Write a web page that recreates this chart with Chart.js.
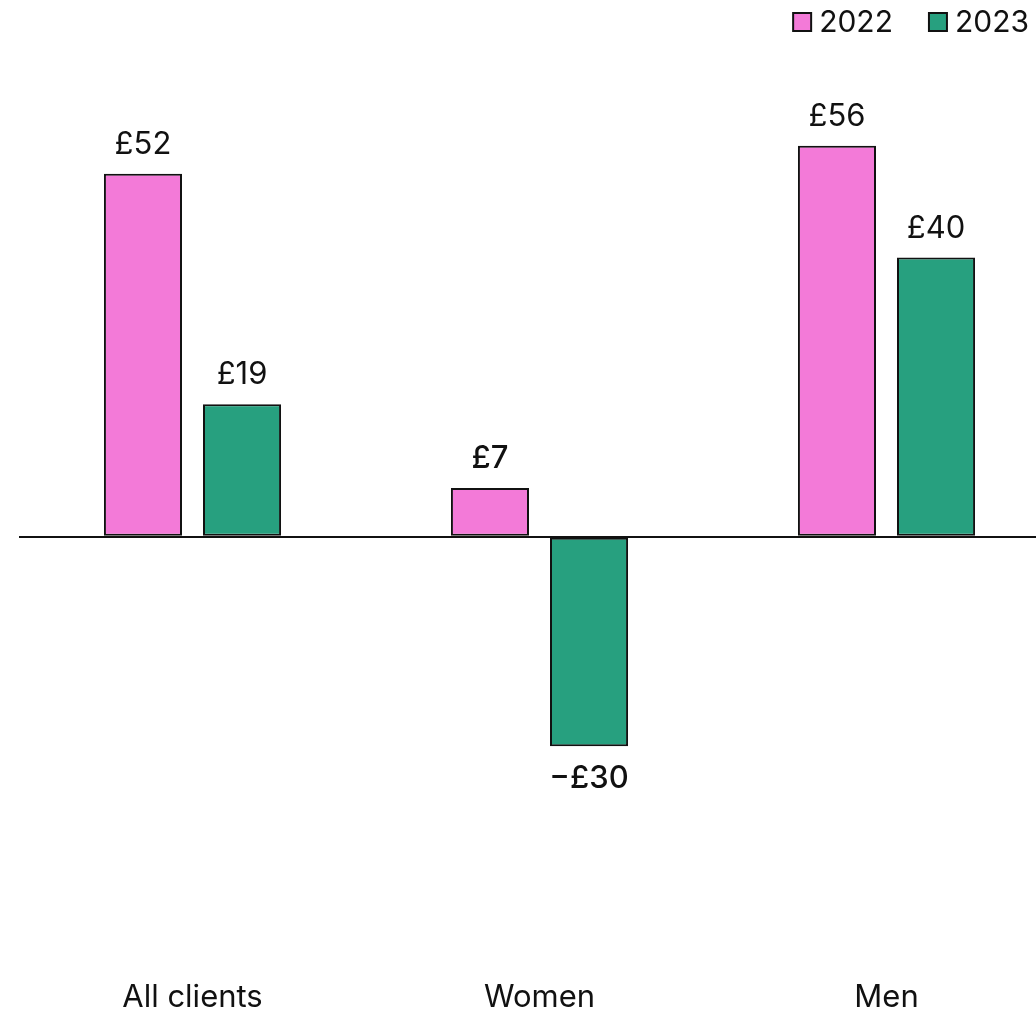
<!DOCTYPE html>
<html lang="en">
<head>
  <meta charset="utf-8" />
  <title>Average change by client group</title>
  <script src="https://cdn.jsdelivr.net/npm/chart.js@4.4.1/dist/chart.umd.min.js"></script>
  <style>
    html, body { margin: 0; padding: 0; background: #fff; }
    /* the plot runs a little past the right edge of the page */
    .frame { width: 1036px; height: 1010px; overflow: hidden; position: relative; }
    canvas { display: block; }
  </style>
</head>
<body>
  <div class="frame">
    <canvas id="chart" width="1060" height="1010"></canvas>
  </div>

  <script>
    const groups = ['All clients', 'Women', 'Men']
    const years = ['2022', '2023']
    const values2022 = [52, 7, 56]
    const values2023 = [19, -30, 40]
    const yRange = [-60, 70]

    const FONT = 'Inter, "Noto Sans", sans-serif'
    const PINK = '#F37AD8'
    const GREEN = '#27A07F'
    const INK = '#111'

    const money = (v) => (v < 0 ? '\u2212£' + Math.abs(v) : '£' + v)

    // value labels above positive bars, below negative ones
    const valueLabels = {
      id: 'valueLabels',
      afterDatasetsDraw(chart) {
        const { ctx } = chart
        ctx.save()
        ctx.fillStyle = INK
        ctx.textAlign = 'center'
        ctx.textBaseline = 'middle'
        chart.data.datasets.forEach((ds, di) => {
          const meta = chart.getDatasetMeta(di)
          meta.data.forEach((bar, i) => {
            const v = ds.data[i]
            ctx.font = (i === 1 ? '500 ' : '400 ') + '31px ' + FONT
            const y = v < 0 ? bar.y + 32 : bar.y - 29
            ctx.fillText(money(v), bar.x, y)
          })
        })
        ctx.restore()
      },
    }

    // small legend in the top right corner
    const cornerLegend = {
      id: 'cornerLegend',
      afterDraw(chart) {
        const { ctx } = chart
        ctx.save()
        ctx.font = '400 30px ' + FONT
        ctx.textBaseline = 'middle'
        ctx.textAlign = 'left'
        const box = 18, gap = 8, spacing = 36
        const widths = chart.data.datasets.map((ds) => box + gap + ctx.measureText(ds.label).width)
        let x = 1029 - widths.reduce((a, b) => a + b, 0) - spacing * (widths.length - 1)
        const cy = 22
        chart.data.datasets.forEach((ds, i) => {
          ctx.fillStyle = ds.backgroundColor
          ctx.fillRect(x, cy - box / 2, box, box)
          ctx.lineWidth = 2
          ctx.strokeStyle = INK
          ctx.strokeRect(x, cy - box / 2, box, box)
          ctx.fillStyle = INK
          ctx.fillText(ds.label, x + box + gap, cy + 1)
          x += widths[i] + spacing
        })
        ctx.restore()
      },
    }

    new Chart(document.getElementById('chart'), {
      type: 'bar',
      data: {
        labels: groups,
        datasets: [
          {
            label: years[0],
            data: values2022,
            backgroundColor: PINK,
            borderColor: INK,
            borderWidth: 2,
            borderSkipped: false,
          },
          {
            label: years[1],
            data: values2023,
            backgroundColor: GREEN,
            borderColor: INK,
            borderWidth: 2,
            borderSkipped: false,
          },
        ],
      },
      options: {
        responsive: false,
        animation: false,
        categoryPercentage: 0.571,
        barPercentage: 0.788,
        layout: { padding: { left: 19, top: 48, right: 0, bottom: -29 } },
        plugins: {
          legend: { display: false },
          tooltip: { enabled: false },
        },
        scales: {
          x: {
            grid: { display: false, drawTicks: false },
            border: { display: false },
            ticks: {
              color: INK,
              padding: 23,
              font: { family: FONT, size: 31 },
            },
          },
          y: {
            min: yRange[0],
            max: yRange[1],
            border: { display: false },
            ticks: { display: false, stepSize: 10 },
            grid: {
              drawTicks: false,
              lineWidth: 2,
              color: (c) => (c.tick && c.tick.value === 0 ? INK : 'transparent'),
            },
          },
        },
      },
      plugins: [valueLabels, cornerLegend],
    })
  </script>
</body>
</html>
